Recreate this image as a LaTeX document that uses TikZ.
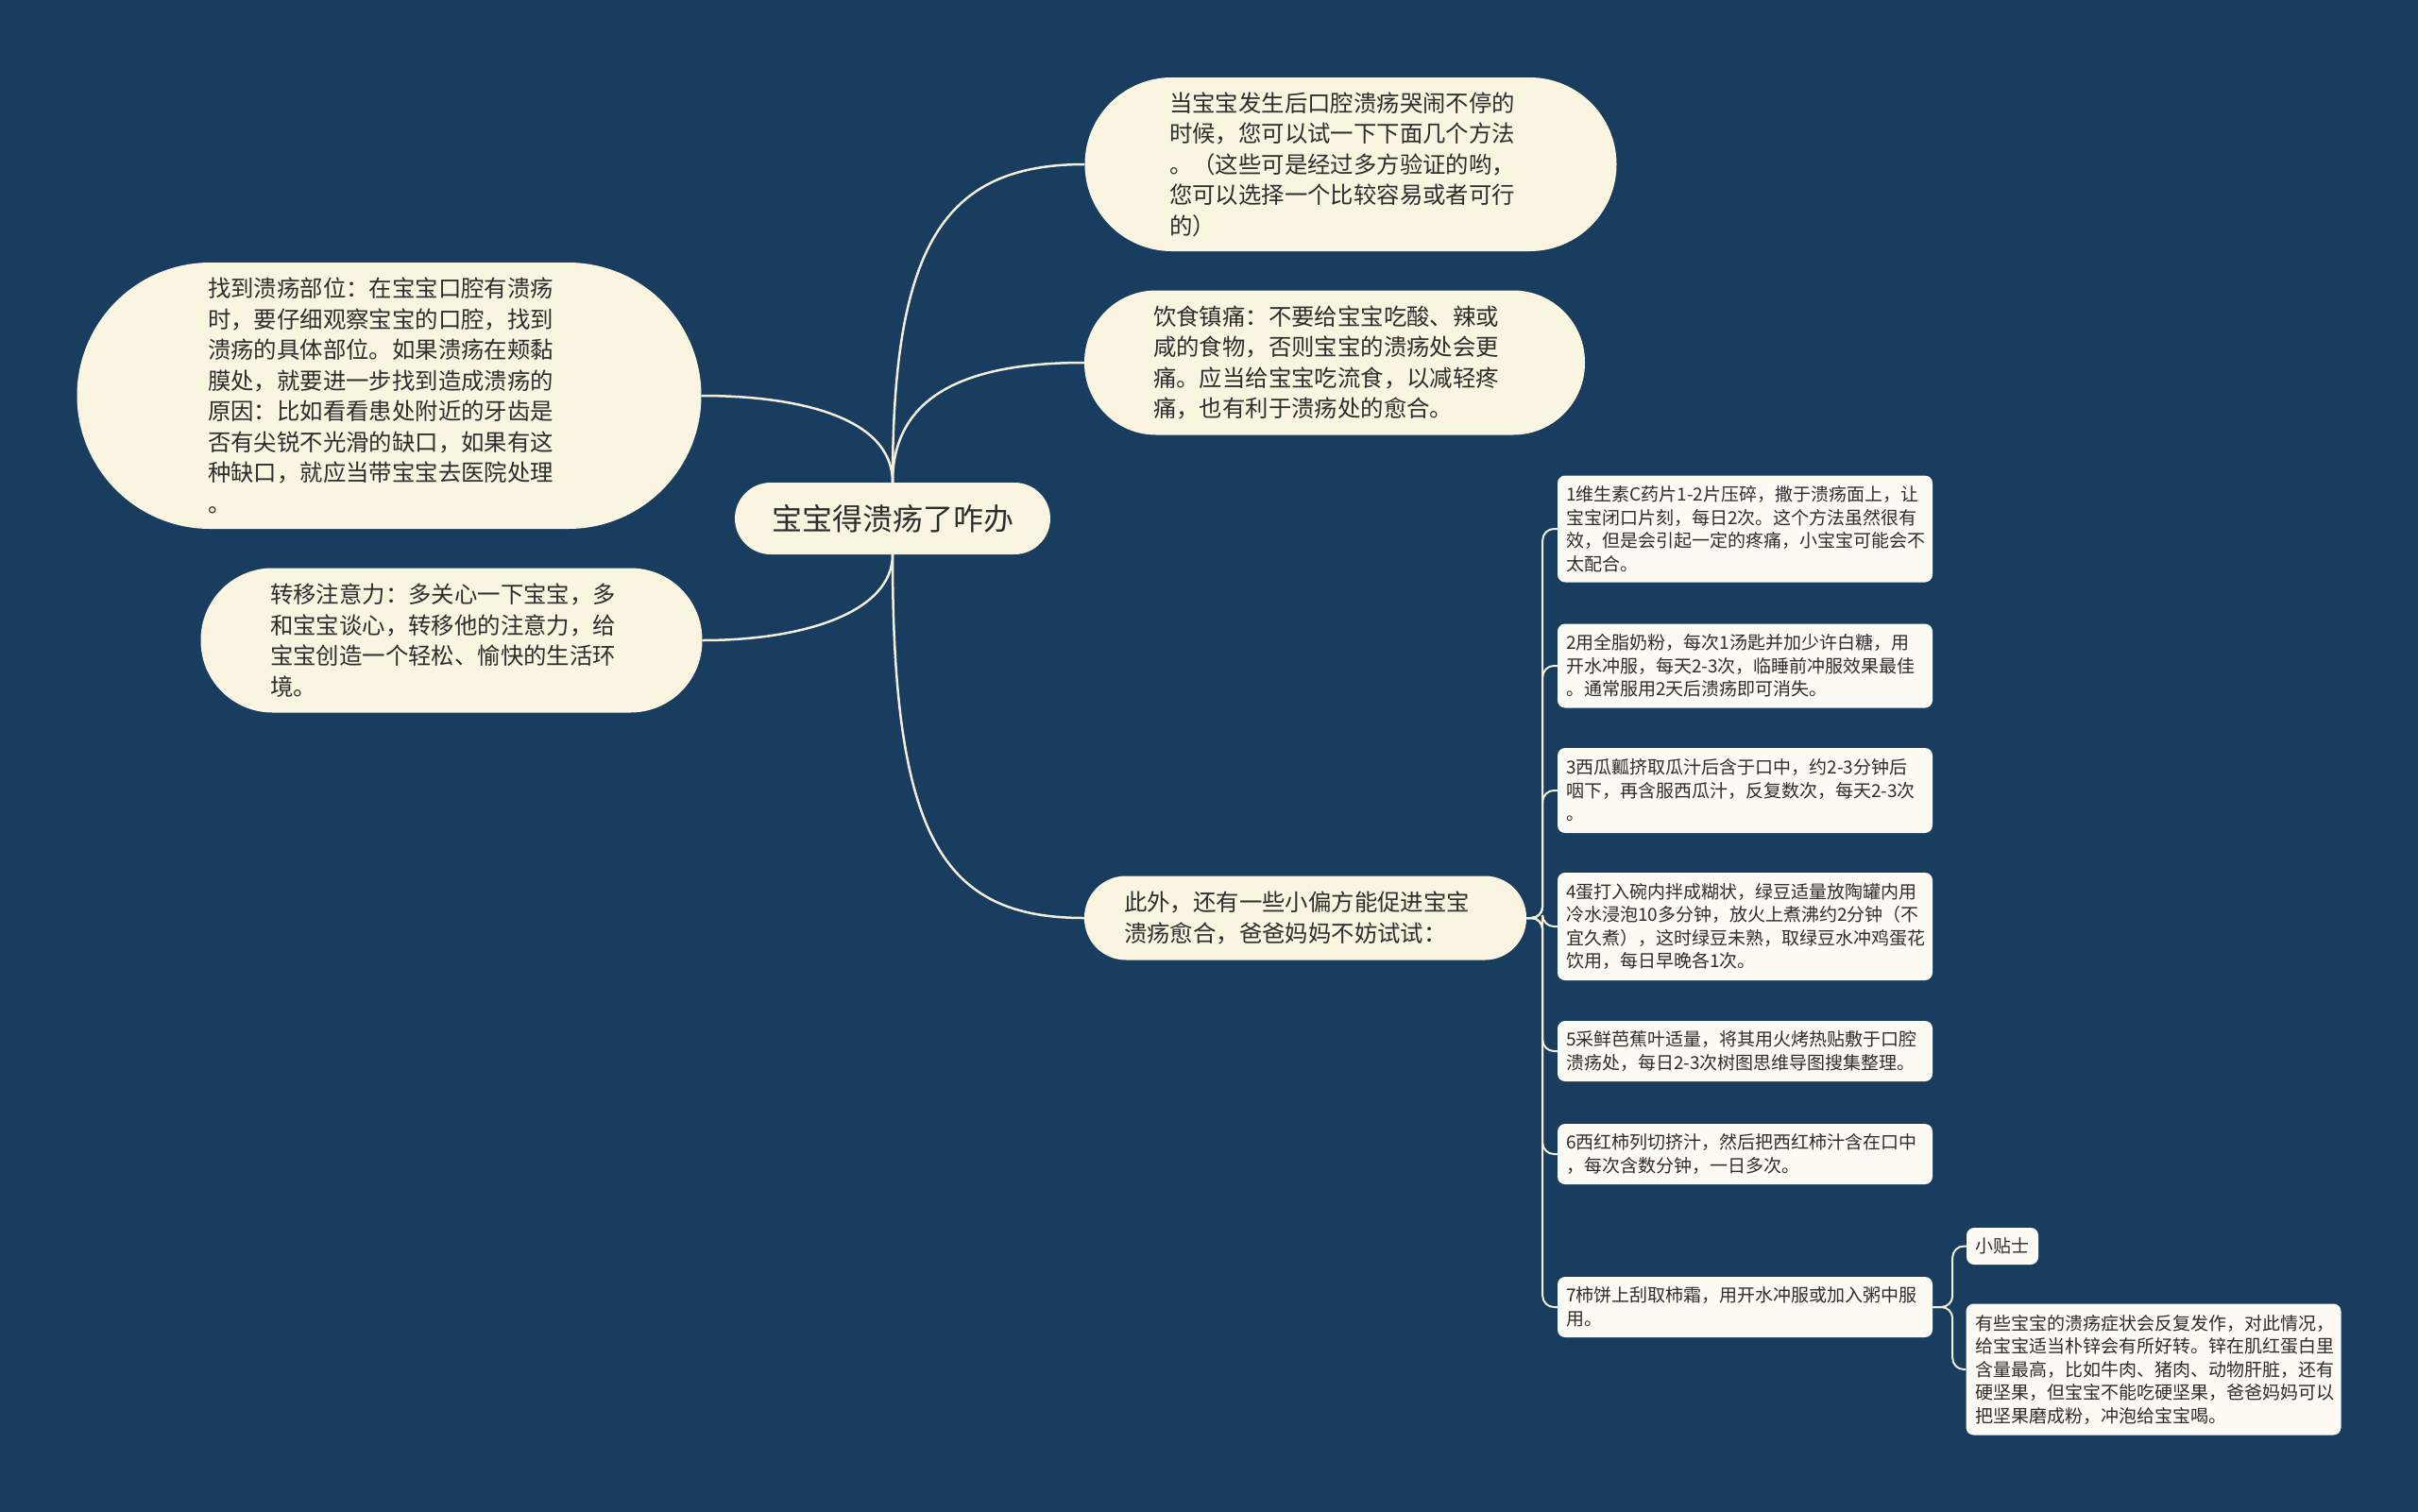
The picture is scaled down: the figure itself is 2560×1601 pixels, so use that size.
\documentclass[tikz,border=0pt]{standalone}
\usepackage{fontspec}
\setmainfont{Noto Sans CJK SC}
\definecolor{bgblue}{RGB}{24,61,94}
\definecolor{cream}{RGB}{250,245,225}
\definecolor{paper}{RGB}{253,251,244}
\definecolor{ink}{RGB}{45,45,45}
\definecolor{wirecol}{RGB}{243,238,220}

\begin{document}
\begin{tikzpicture}[x=1pt,y=-1pt,
  topic/.style={fill=cream, text=ink, align=left, text width=384pt, inner sep=0pt, font=\fontsize{24.4}{32.5}\selectfont},
  note/.style={fill=paper, text=ink, rounded corners=8pt, inner xsep=9pt, inner ysep=0pt, font=\fontsize{19}{24.5}\selectfont},
  leaf/.style={note, align=left, text width=379pt, minimum width=397pt},
  wire/.style={draw=wirecol, line width=2.5pt},
  brace/.style={draw=wirecol, line width=2pt, rounded corners=12pt}]
  \fill[bgblue] (0,0) rectangle (2560,1601);

  % main topic and first level
  \node[topic, text width=, align=center, minimum width=334pt, minimum height=76pt, rounded corners=38pt,
        font=\fontsize{32}{40}\selectfont] (root) at (945,549) {宝宝得溃疡了咋办};
  \node[topic, minimum width=563pt, minimum height=184pt, rounded corners=92pt] (howto) at (1430,174)
    {当宝宝发生后口腔溃疡哭闹不停的\\时候，您可以试一下下面几个方法\\。（这些可是经过多方验证的哟，\\您可以选择一个比较容易或者可行\\的）};
  \node[topic, minimum width=530pt, minimum height=153pt, rounded corners=76pt] (diet) at (1413,384)
    {饮食镇痛：不要给宝宝吃酸、辣或\\咸的食物，否则宝宝的溃疡处会更\\痛。应当给宝宝吃流食，以减轻疼\\痛，也有利于溃疡处的愈合。};
  \node[topic, minimum width=661pt, minimum height=282pt, rounded corners=141pt] (locate) at (412,419)
    {找到溃疡部位：在宝宝口腔有溃疡\\时，要仔细观察宝宝的口腔，找到\\溃疡的具体部位。如果溃疡在颊黏\\膜处，就要进一步找到造成溃疡的\\原因：比如看看患处附近的牙齿是\\否有尖锐不光滑的缺口，如果有这\\种缺口，就应当带宝宝去医院处理\\。};
  \node[topic, minimum width=531pt, minimum height=153pt, rounded corners=76pt] (distract) at (478,678)
    {转移注意力：多关心一下宝宝，多\\和宝宝谈心，转移他的注意力，给\\宝宝创造一个轻松、愉快的生活环\\境。};
  \node[topic, minimum width=468pt, minimum height=89pt, rounded corners=44pt] (remedy) at (1382,972)
    {此外，还有一些小偏方能促进宝宝\\溃疡愈合，爸爸妈妈不妨试试：};

  \draw[wire] (root.north) .. controls +(0,-250) and +(-150,0) .. (howto.west);
  \draw[wire] (root.north) .. controls +(0,-95) and +(-120,0) .. (diet.west);
  \draw[wire] (root.north) .. controls +(0,-70) and +(100,0) .. (locate.east);
  \draw[wire] (root.south) .. controls +(0,60) and +(110,0) .. (distract.east);
  \draw[wire] (root.south) .. controls +(0,300) and +(-150,0) .. (remedy.west);

  % remedies
  \foreach \i/\y/\h/\txt in {
    1/560/113/{1维生素C药片1-2片压碎，撒于溃疡面上，让\\宝宝闭口片刻，每日2次。这个方法虽然很有\\效，但是会引起一定的疼痛，小宝宝可能会不\\太配合。},
    2/705/89/{2用全脂奶粉，每次1汤匙并加少许白糖，用\\开水冲服，每天2-3次，临睡前冲服效果最佳\\。通常服用2天后溃疡即可消失。},
    3/837/90/{3西瓜瓤挤取瓜汁后含于口中，约2-3分钟后\\咽下，再含服西瓜汁，反复数次，每天2-3次\\。},
    4/981/114/{4蛋打入碗内拌成糊状，绿豆适量放陶罐内用\\冷水浸泡10多分钟，放火上煮沸约2分钟（不\\宜久煮），这时绿豆未熟，取绿豆水冲鸡蛋花\\饮用，每日早晚各1次。},
    5/1113/64/{5采鲜芭蕉叶适量，将其用火烤热贴敷于口腔\\溃疡处，每日2-3次树图思维导图搜集整理。},
    6/1222/64/{6西红柿列切挤汁，然后把西红柿汁含在口中\\，每次含数分钟，一日多次。},
    7/1384/64/{7柿饼上刮取柿霜，用开水冲服或加入粥中服\\用。}}
  {
    \node[leaf, minimum height=\h pt] (r\i) at (1847.5,\y) {\txt};
    \draw[brace] (remedy.east) -- ++(17,0) |- (r\i.west);
  }

  % tip
  \node[note, minimum width=76pt, minimum height=39pt] (tiphead) at (2120,1319.5) {小贴士};
  \node[leaf, text width=378pt, minimum height=139pt] (tipbody) at (2280,1450)
    {有些宝宝的溃疡症状会反复发作，对此情况，\\给宝宝适当朴锌会有所好转。锌在肌红蛋白里\\含量最高，比如牛肉、猪肉、动物肝脏，还有\\硬坚果，但宝宝不能吃硬坚果，爸爸妈妈可以\\把坚果磨成粉，冲泡给宝宝喝。};
  \draw[brace] (r7.east) -- ++(21,0) |- (tiphead.west);
  \draw[brace] (r7.east) -- ++(21,0) |- (tipbody.west);
\end{tikzpicture}
\end{document}
